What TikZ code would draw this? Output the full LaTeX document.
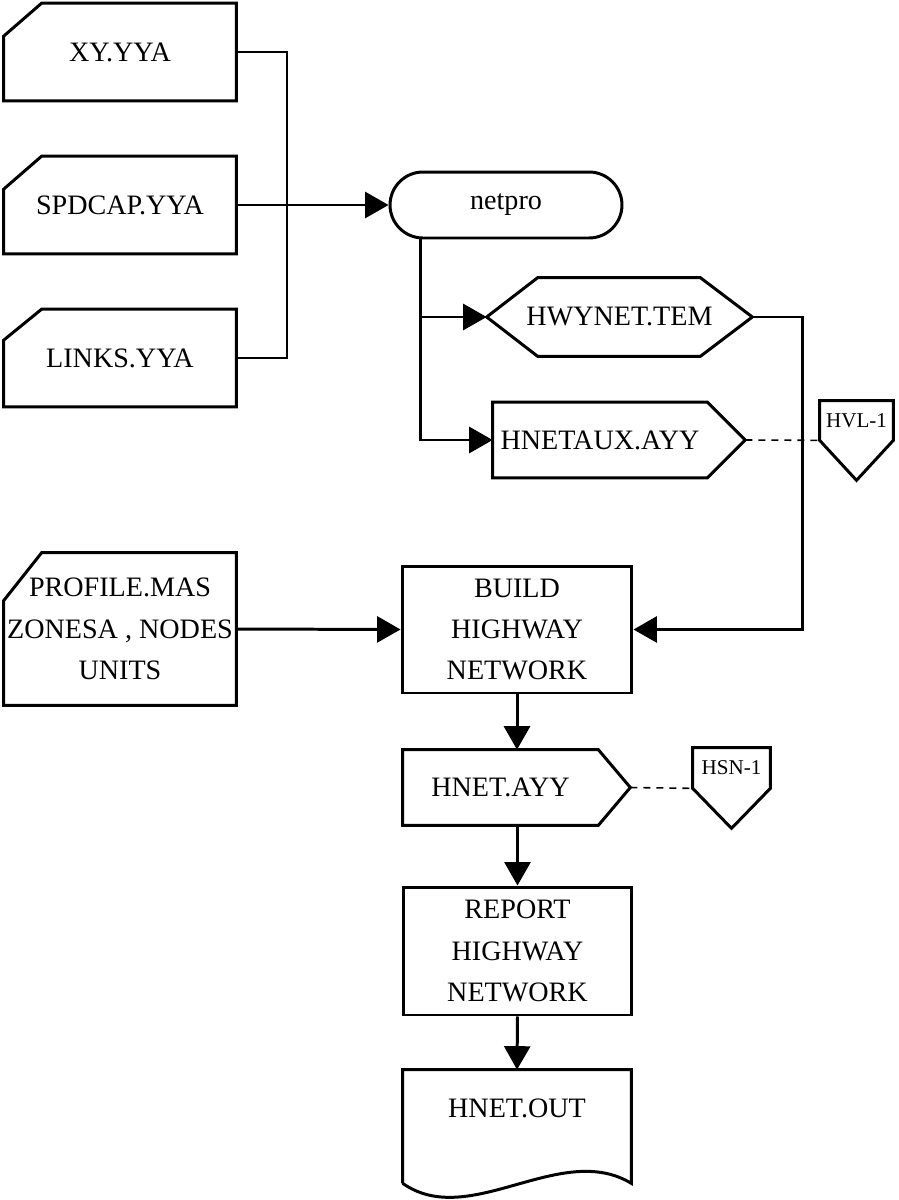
\documentclass[tikz,border=0pt]{standalone}
\usepackage{fontspec}
\setmainfont{Liberation Serif}
\usetikzlibrary{arrows.meta}

\begin{document}
\begin{tikzpicture}[x=0.02cm, y=-0.02cm,
    every node/.style={font=\fontsize{16}{23.5}\selectfont, align=center, inner sep=0pt},
    shapeline/.style={line width=1.7pt, line join=miter},
    card/.style={minimum width=4.64cm, minimum height=1.94cm},
    procbox/.style={draw, line width=1.7pt, minimum width=4.6cm, minimum height=2.54cm},
    datafile/.style={minimum height=1.5cm},
    offpage/.style={minimum height=0.78cm, font=\fontsize{12}{14}\selectfont},
    link/.style={line width=1.7pt},
    flow/.style={line width=1.7pt, -{Triangle[length=4.7mm, width=5.2mm]}},
    aux link/.style={line width=0.9pt, dash pattern=on 1.4mm off 1.2mm}]
    \useasboundingbox (0,0) rectangle (899,1200);

    % input cards
    \node[card] (xy) at (120,52) {XY.YYA};
    \node[card] (spdcap) at (120,205) {SPDCAP.YYA};
    \node[card] (links) at (120,358) {LINKS.YYA};
    \node[card, minimum height=3.04cm] (profile) at (120,629) {PROFILE.MAS\\ZONESA , NODES\\UNITS};
    \foreach \n/\c in {xy/0.66cm, spdcap/0.66cm, links/0.62cm, profile/0.96cm}
        \draw[shapeline] ([yshift=-\c]\n.north west) -- ([xshift=0.76cm]\n.north west) -- (\n.north east)
            -- (\n.south east) -- (\n.south west) -- cycle;

    \node[draw, line width=1.7pt, rounded corners=0.66cm, minimum width=4.64cm, minimum height=1.32cm] (netpro) at (506,205) {netpro};

    \node[minimum width=5.3cm, minimum height=1.56cm] (hwytem) at (619.5,317) {HWYNET.TEM};
    \draw[shapeline] (hwytem.west) -- ([xshift=1.02cm]hwytem.north west) -- ([xshift=-1.04cm]hwytem.north east)
        -- (hwytem.east) -- ([xshift=-1.04cm]hwytem.south east) -- ([xshift=1.02cm]hwytem.south west) -- cycle;

    \node[datafile, minimum width=4.28cm] (hnetaux) at (600,440) {HNETAUX.AYY};
    \coordinate (hnetaux tip) at ([xshift=0.76cm]hnetaux.east);
    \draw[shapeline] (hnetaux.north west) -- (hnetaux.north east) -- (hnetaux tip) -- (hnetaux.south east) -- (hnetaux.south west) -- cycle;

    \node[offpage, minimum width=1.46cm] (hvl) at (856.5,420.5) {HVL-1};
    \draw[shapeline] (hvl.south west) -- (hvl.north west) -- (hvl.north east) -- (hvl.south east) -- ([yshift=-0.8cm]hvl.south) -- cycle;

    \node[procbox] (build) at (517,629.5) {BUILD\\HIGHWAY\\NETWORK};

    \node[datafile, minimum width=3.9cm] (hnet) at (500.5,787.5) {HNET.AYY};
    \coordinate (hnet tip) at ([xshift=0.64cm]hnet.east);
    \draw[shapeline] (hnet.north west) -- (hnet.north east) -- (hnet tip) -- (hnet.south east) -- (hnet.south west) -- cycle;

    \node[offpage, minimum width=1.54cm, minimum height=0.8cm] (hsn) at (731.5,768) {HSN-1};
    \draw[shapeline] (hsn.south west) -- (hsn.north west) -- (hsn.north east) -- (hsn.south east) -- ([yshift=-0.8cm]hsn.south) -- cycle;

    \node[procbox, minimum width=4.58cm, minimum height=2.56cm] (report) at (517.5,951) {REPORT\\HIGHWAY\\NETWORK};

    % printed output
    \node[minimum width=4.56cm, minimum height=1.52cm] (hnetout) at (517,1108) {HNET.OUT};
    \draw[shapeline] ([yshift=-0.74cm]hnetout.south west) -- (hnetout.north west) -- (hnetout.north east) -- ([yshift=-0.74cm]hnetout.south east)
        .. controls +(-1.42cm,0.86cm) and +(1.34cm,-0.94cm) .. ([yshift=-0.74cm]hnetout.south west);

    % connectors
    \coordinate (bus) at (287,205);
    \draw[link] (xy.east) -| (bus) |- (links.east);
    \draw[flow] (spdcap.east) -- (netpro.west);
    \draw[flow] ([xshift=-1.72cm]netpro.south) |- (hwytem.west);
    \draw[flow] ([xshift=-1.72cm]netpro.south) |- (hnetaux.west);
    \draw[flow] (hwytem.east) -- ++(50,0) |- (build.east);
    \draw[aux link] (hnetaux tip) -- (hvl.south west);
    \draw[flow] (profile.east) -- (build.west);
    \draw[flow] (build.south) -- (build.south |- hnet.north);
    \draw[flow] (hnet.south -| report.north) -- (report.north);
    \draw[aux link] (hnet tip) -- (hsn.south west);
    \draw[flow] (report.south) -- (hnetout.north);

\end{tikzpicture}
\end{document}
